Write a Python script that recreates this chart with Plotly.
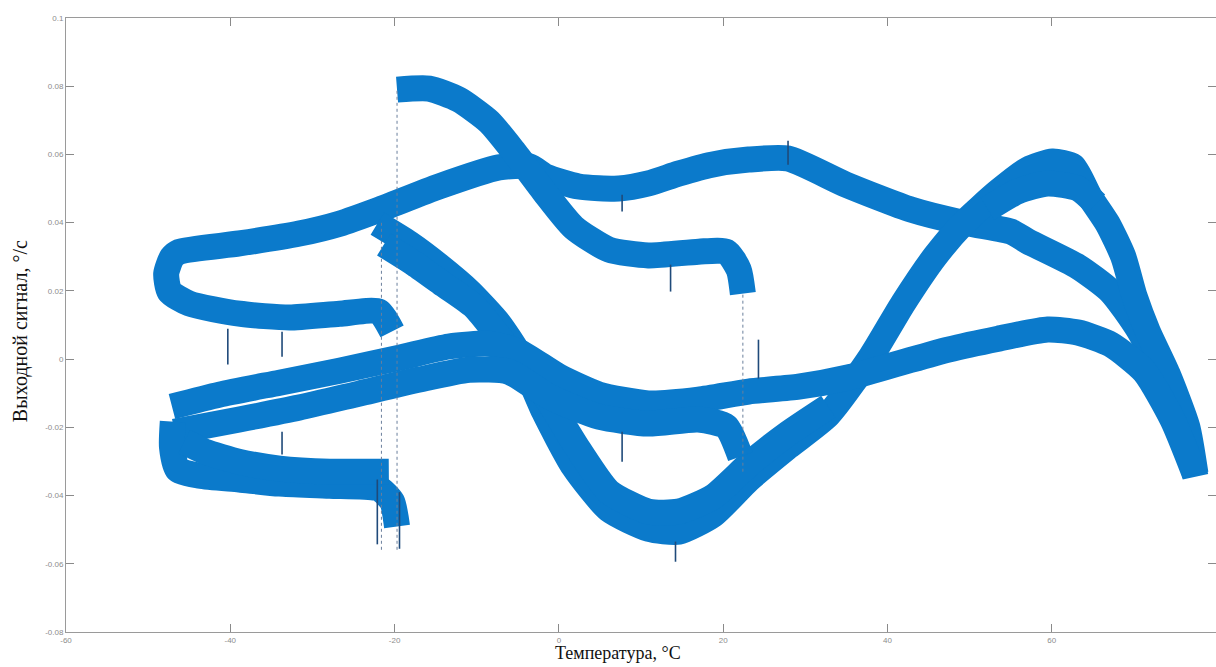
import plotly.graph_objects as go

# ---- data (temperature °C, output °/s) ----
# upper band: left loop (lower branch -> round end -> upper branch) then across to the right end
upper_T = [-20.3, -21.9, -26.7, -32.8, -38.9, -45.0, -47.4, -47.8, -47.1, -46.2, -38.9, -31.6, -26.7, -21.9,
           -14.6, -7.3, -3.6, -1.6, 2.4, 7.3, 10.9, 14.6, 18.6, 23.1, 27.9, 34.9, 42.9, 48.6, 55.0, 57.1,
           63.2, 67.2, 70.5, 73.5, 75.9, 77.5]
upper_v = [0.0081, 0.0139, 0.0133, 0.0122, 0.0133, 0.0163, 0.0198, 0.0251, 0.0298, 0.0315, 0.0339, 0.0368,
           0.0397, 0.0438, 0.0506, 0.0562, 0.0565, 0.0535, 0.0506, 0.0500, 0.0515, 0.0544, 0.0570, 0.0585,
           0.0588, 0.0512, 0.0438, 0.0403, 0.0374, 0.0345, 0.0271, 0.0198, 0.0089, -0.0051, -0.0183, -0.0345]

# descending band -> lower U -> rising band -> peak -> right end
u_T = [-22.1, -18.2, -14.6, -10.9, -7.3, -4.9, -1.8, 1.8, 6.1, 10.9, 14.6, 18.8, 23.1, 27.9, 32.8, 38.0,
       41.9, 45.8, 49.2, 53.5, 57.1, 60.1, 62.6, 64.6, 66.8, 68.7, 70.1, 71.7, 74.1, 76.5, 77.5]
u_v = [0.0397, 0.0339, 0.0274, 0.0198, 0.0104, 0.0016, -0.0154, -0.0315, -0.0441, -0.0497, -0.0506, -0.0456,
       -0.0353, -0.0257, -0.0163, 0.0007, 0.0163, 0.0301, 0.0397, 0.0491, 0.0556, 0.0579, 0.0565, 0.0477,
       0.0397, 0.0301, 0.0183, 0.0081, -0.0043, -0.0198, -0.0336]

# second trace of the descending band / lower U
u2_T = [-21.3, -17.6, -14.0, -10.3, -7.3, -4.3, -1.2, 2.4, 6.1, 10.9, 14.6, 18.8, 23.1, 27.9, 32.8]
u2_v = [0.0336, 0.0280, 0.0218, 0.0154, 0.0066, -0.0022, -0.0125, -0.0265, -0.0389, -0.0447, -0.0447,
        -0.0403, -0.0309, -0.0218, -0.0139]

# band around zero (upper trace), ending in the hump on the right
zero_T = [-47.1, -41.3, -34.0, -26.7, -19.4, -13.4, -8.5, -4.9, 0.0, 4.9, 10.9, 17.0, 23.1, 29.2, 35.2,
          41.3, 47.4, 53.5, 59.5, 63.2, 67.2, 71.3, 74.7, 77.4]
zero_v = [-0.0139, -0.0104, -0.0069, -0.0034, 0.0004, 0.0037, 0.0045, 0.0022, -0.0051, -0.0104, -0.0130,
          -0.0119, -0.0095, -0.0081, -0.0054, -0.0013, 0.0028, 0.0060, 0.0087, 0.0078, 0.0043, -0.0037,
          -0.0177, -0.0336]

# band around zero (lower trace)
zero2_T = [-46.8, -38.9, -31.6, -24.3, -17.0, -10.9, -6.1, -1.2, 4.9, 10.9, 17.0, 20.4, 22.1]
zero2_v = [-0.0213, -0.0177, -0.0142, -0.0101, -0.0060, -0.0031, -0.0037, -0.0110, -0.0169, -0.0189,
           -0.0177, -0.0198, -0.0286]

# high branch starting at -20 °C
high_T = [-19.7, -15.8, -12.2, -8.5, -5.5, -1.8, 1.8, 6.1, 10.9, 17.0, 20.4, 21.9, 22.4]
high_v = [0.0790, 0.0793, 0.0761, 0.0696, 0.0609, 0.0491, 0.0386, 0.0321, 0.0304, 0.0315, 0.0315, 0.0262, 0.0192]

# lower-left branch
low_T = [-19.7, -20.3, -21.9, -27.9, -34.0, -38.9, -43.7, -46.4, -47.1, -47.0]
low_v = [-0.0491, -0.0418, -0.0380, -0.0371, -0.0365, -0.0353, -0.0342, -0.0324, -0.0257, -0.0183]
low2_T = [-20.7, -27.9, -34.0, -38.9, -43.1, -45.6]
low2_v = [-0.0330, -0.0330, -0.0321, -0.0301, -0.0271, -0.0242]

# shoulder near the peak
sh_T = [52.2, 55.9, 59.5, 63.2, 65.4]
sh_v = [0.0440, 0.0492, 0.0515, 0.0500, 0.0455]

# thin jump lines and spikes (temperature, low, high)
jump_T = [-21.6, -19.7, 22.4]
jump_lo = [-0.0559, -0.0559, -0.0330]
jump_hi = [0.0403, 0.0790, 0.0192]
spike_T = [-22.1, -19.4, -40.3, -33.7, -33.7, 7.7, 7.7, 13.6, 14.2, 24.3, 27.9]
spike_lo = [-0.0543, -0.0556, -0.0016, 0.0007, -0.0280, -0.0301, 0.0433, 0.0198, -0.0594, -0.0057, 0.0570]
spike_hi = [-0.0353, -0.0390, 0.0089, 0.0080, -0.0213, -0.0213, 0.0482, 0.0277, -0.0535, 0.0057, 0.0640]

x_ticks = [-60, -40, -20, 0, 20, 40, 60, 80]
y_ticks = [-0.08, -0.06, -0.04, -0.02, 0, 0.02, 0.04, 0.06, 0.08, 0.1]
y_ticktext = ["-0.08", "-0.06", "-0.04", "-0.02", "0", "0.02", "0.04", "0.06", "0.08", "0.1"]

BLUE = "#0b7acb"
fig = go.Figure()

for tx, vy in [(upper_T, upper_v), (u_T, u_v), (u2_T, u2_v), (zero_T, zero_v), (zero2_T, zero2_v),
               (high_T, high_v), (low_T, low_v), (low2_T, low2_v), (sh_T, sh_v)]:
    fig.add_trace(go.Scatter(x=tx, y=vy, mode="lines",
                             line=dict(color=BLUE, width=26, shape="spline", smoothing=0.6),
                             showlegend=False, hoverinfo="skip"))

jx, jy = [], []
for t, lo, hi in zip(jump_T, jump_lo, jump_hi):
    jx += [t, t, None]
    jy += [lo, hi, None]
fig.add_trace(go.Scatter(x=jx, y=jy, mode="lines", line=dict(color="#6a7f9c", width=1, dash="dot"),
                         showlegend=False, hoverinfo="skip"))

sx, sy = [], []
for t, lo, hi in zip(spike_T, spike_lo, spike_hi):
    sx += [t, t, None]
    sy += [lo, hi, None]
fig.add_trace(go.Scatter(x=sx, y=sy, mode="lines", line=dict(color="#1f4a7a", width=1.6),
                         showlegend=False, hoverinfo="skip"))

axis_common = dict(showline=True, linecolor="#9a9a9a", linewidth=1, mirror="ticks", ticks="inside",
                   ticklen=8, tickcolor="#8a8a8a", showgrid=False, zeroline=False,
                   tickfont=dict(family="Liberation Sans", size=8, color="#8c8c8c"))

fig.update_layout(
    width=1216, height=667,
    margin=dict(l=66, r=0, t=18, b=35),
    paper_bgcolor="white", plot_bgcolor="white",
    xaxis=dict(range=[-60, 80], tickvals=x_ticks, ticktext=[str(v) for v in x_ticks], **axis_common),
    yaxis=dict(range=[-0.08, 0.1], tickvals=y_ticks, ticktext=y_ticktext, **axis_common),
    annotations=[
        dict(text="Температура, °C", xref="paper", yref="paper", x=0.48, y=-0.0545,
             xanchor="center", yanchor="bottom", showarrow=False,
             font=dict(family="Liberation Serif", size=18, color="#111")),
        dict(text="Выходной сигнал, °/с", xref="paper", yref="paper", x=-0.04, y=0.49,
             xanchor="center", yanchor="middle", showarrow=False, textangle=-90,
             font=dict(family="Liberation Serif", size=20, color="#111")),
    ],
)

fig.write_html("out.html", config={"displayModeBar": False},
               post_script="document.body.style.margin='0';document.body.style.overflow='hidden';")
